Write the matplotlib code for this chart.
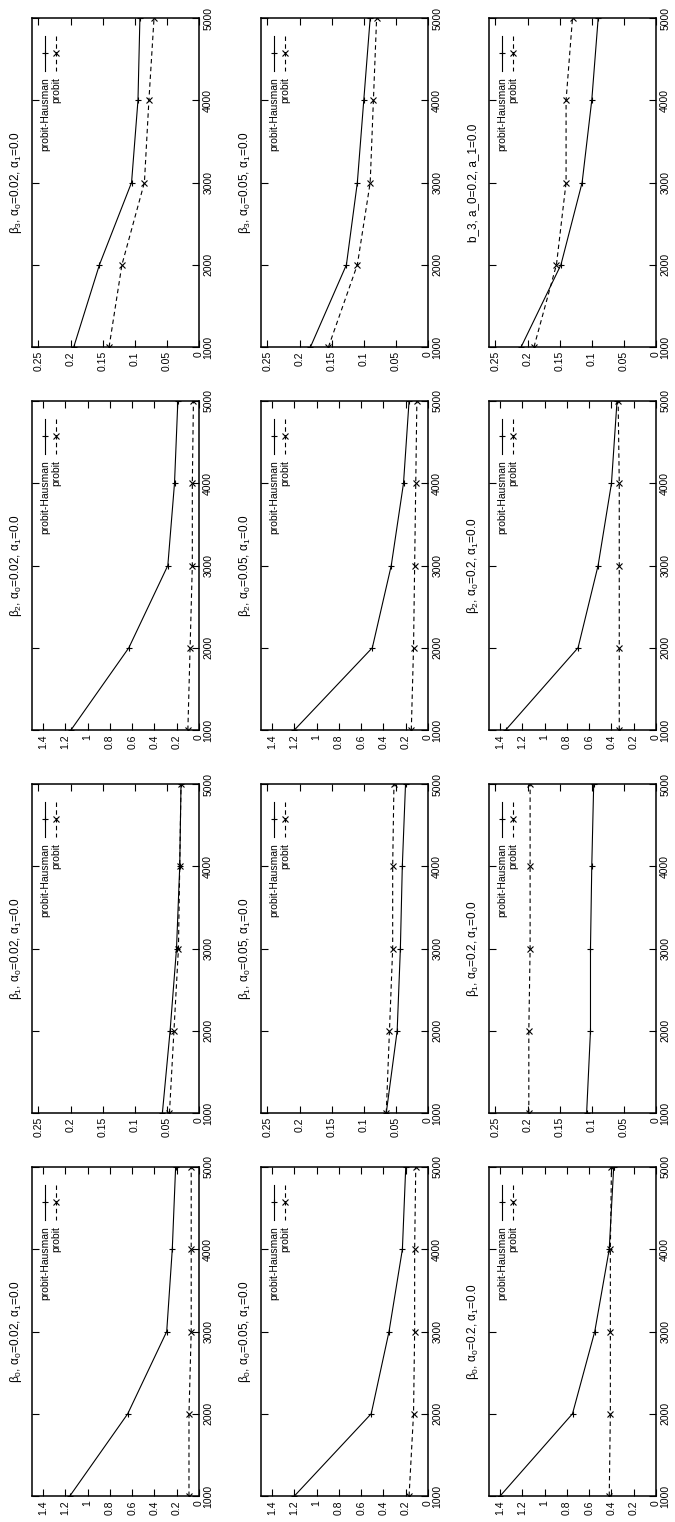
import numpy as np
import matplotlib.pyplot as plt

plt.rcParams['font.family'] = ['Liberation Sans', 'DejaVu Sans']
plt.rcParams['mathtext.fontset'] = 'custom'
plt.rcParams['mathtext.rm'] = 'Liberation Sans'
plt.rcParams['mathtext.it'] = 'Liberation Sans:italic'

# sample size (vertical axis in the rotated figure)
n_obs = [1000, 2000, 3000, 4000, 5000]
n_labels = ['1000', '2000', '3000', '4000', '5000']

big_ticks = [0, 0.2, 0.4, 0.6, 0.8, 1.0, 1.2, 1.4]
big_labels = ['0', '0.2', '0.4', '0.6', '0.8', '1', '1.2', '1.4']
small_ticks = [0, 0.05, 0.1, 0.15, 0.2, 0.25]
small_labels = ['0', '0.05', '0.1', '0.15', '0.2', '0.25']

# alpha0 = 0.02
ph_b0_a1 = [1.16, 0.64, 0.29, 0.24, 0.21]
pr_b0_a1 = [0.09, 0.09, 0.07, 0.07, 0.07]
ph_b1_a1 = [0.057, 0.045, 0.035, 0.030, 0.028]
pr_b1_a1 = [0.046, 0.039, 0.032, 0.030, 0.028]
ph_b2_a1 = [1.15, 0.63, 0.28, 0.22, 0.19]
pr_b2_a1 = [0.10, 0.08, 0.06, 0.06, 0.05]
ph_b3_a1 = [0.195, 0.155, 0.105, 0.095, 0.092]
pr_b3_a1 = [0.140, 0.120, 0.085, 0.078, 0.070]

# alpha0 = 0.05
ph_b0_a2 = [1.20, 0.51, 0.35, 0.23, 0.20]
pr_b0_a2 = [0.17, 0.13, 0.12, 0.12, 0.11]
ph_b1_a2 = [0.065, 0.048, 0.043, 0.040, 0.035]
pr_b1_a2 = [0.065, 0.060, 0.055, 0.055, 0.053]
ph_b2_a2 = [1.20, 0.50, 0.33, 0.22, 0.17]
pr_b2_a2 = [0.15, 0.13, 0.12, 0.11, 0.10]
ph_b3_a2 = [0.183, 0.127, 0.110, 0.100, 0.090]
pr_b3_a2 = [0.155, 0.110, 0.090, 0.085, 0.080]

# alpha0 = 0.2
ph_b0_a3 = [1.40, 0.75, 0.55, 0.42, 0.38]
pr_b0_a3 = [0.42, 0.41, 0.41, 0.41, 0.40]
ph_b1_a3 = [0.108, 0.102, 0.102, 0.100, 0.097]
pr_b1_a3 = [0.198, 0.198, 0.196, 0.196, 0.196]
ph_b2_a3 = [1.35, 0.70, 0.52, 0.40, 0.35]
pr_b2_a3 = [0.33, 0.33, 0.33, 0.33, 0.34]
ph_b3_a3 = [0.210, 0.148, 0.115, 0.100, 0.090]
pr_b3_a3 = [0.190, 0.155, 0.140, 0.140, 0.130]

titles = [
    [r'β$_3$, α$_0$=0.02, α$_1$=0.0', r'β$_3$, α$_0$=0.05, α$_1$=0.0', 'b_3, a_0=0.2, a_1=0.0'],
    [r'β$_2$, α$_0$=0.02, α$_1$=0.0', r'β$_2$, α$_0$=0.05, α$_1$=0.0', r'β$_2$, α$_0$=0.2, α$_1$=0.0'],
    [r'β$_1$, α$_0$=0.02, α$_1$=0.0', r'β$_1$, α$_0$=0.05, α$_1$=0.0', r'β$_1$, α$_0$=0.2, α$_1$=0.0'],
    [r'β$_0$, α$_0$=0.02, α$_1$=0.0', r'β$_0$, α$_0$=0.05, α$_1$=0.0', r'β$_0$, α$_0$=0.2, α$_1$=0.0'],
]

ph_rows = [[ph_b3_a1, ph_b3_a2, ph_b3_a3],
           [ph_b2_a1, ph_b2_a2, ph_b2_a3],
           [ph_b1_a1, ph_b1_a2, ph_b1_a3],
           [ph_b0_a1, ph_b0_a2, ph_b0_a3]]
pr_rows = [[pr_b3_a1, pr_b3_a2, pr_b3_a3],
           [pr_b2_a1, pr_b2_a2, pr_b2_a3],
           [pr_b1_a1, pr_b1_a2, pr_b1_a3],
           [pr_b0_a1, pr_b0_a2, pr_b0_a3]]
small_row = [True, False, True, False]

W_PX, H_PX = 675, 1522
col_left = [32, 261, 489]
row_top = [18, 401, 784, 1167]
pw, ph_ = 167, 329

fig = plt.figure(figsize=(W_PX / 100, H_PX / 100), dpi=100)

for r in range(4):
    for c in range(3):
        L, T = col_left[c], row_top[r]
        ax = fig.add_axes([L / W_PX, 1 - (T + ph_) / H_PX, pw / W_PX, ph_ / H_PX])
        ax.plot(ph_rows[r][c], n_obs, color='black', lw=0.8, marker='+', ms=5, mew=0.8)
        ax.plot(pr_rows[r][c], n_obs, color='black', lw=0.8, ls=(0, (4, 3)),
                marker='x', ms=4, mew=0.8)
        if small_row[r]:
            ax.set_xlim(0.26, 0)
            ax.set_xticks(small_ticks)
            ax.set_xticklabels(small_labels)
        else:
            ax.set_xlim(1.5, 0)
            ax.set_xticks(big_ticks)
            ax.set_xticklabels(big_labels)
        ax.set_ylim(1000, 5000)
        ax.set_yticks(n_obs)
        ax.set_yticklabels(n_labels)
        ax.yaxis.tick_right()
        ax.tick_params(axis='x', direction='in', top=True, bottom=True, length=5,
                       width=0.8, labelsize=7.5, labelrotation=90, pad=3)
        ax.tick_params(axis='y', direction='in', left=True, right=True, length=5,
                       width=0.8, labelsize=7.5, labelrotation=90, pad=3,
                       labelleft=False, labelright=True)
        for lab in ax.get_yticklabels():
            lab.set_verticalalignment('center')
        for sp in ax.spines.values():
            sp.set_linewidth(1.1)

        # title on the left side, rotated
        ax.text(-16 / pw, 0.5, titles[r][c], rotation=90, ha='center', va='center',
                fontsize=8.5, transform=ax.transAxes)

        # hand-made rotated key
        y_top, y_bot, y_mk = 1 - 18 / ph_, 1 - 53 / ph_, 1 - 35 / ph_
        for xk, mk, ls, lab in [(13 / pw, '+', '-', 'probit-Hausman'),
                                (24 / pw, 'x', (0, (4, 3)), 'probit')]:
            ax.plot([xk, xk], [y_top, y_bot], color='black', lw=0.8, ls=ls,
                    transform=ax.transAxes, clip_on=False)
            ax.plot([xk], [y_mk], color='black', marker=mk, ms=5 if mk == '+' else 4,
                    mew=0.8, transform=ax.transAxes)
            ax.text(xk, 1 - 59 / ph_, lab, rotation=90, ha='center', va='top',
                    fontsize=7.5, transform=ax.transAxes)

fig.savefig('out.png', dpi=100)
